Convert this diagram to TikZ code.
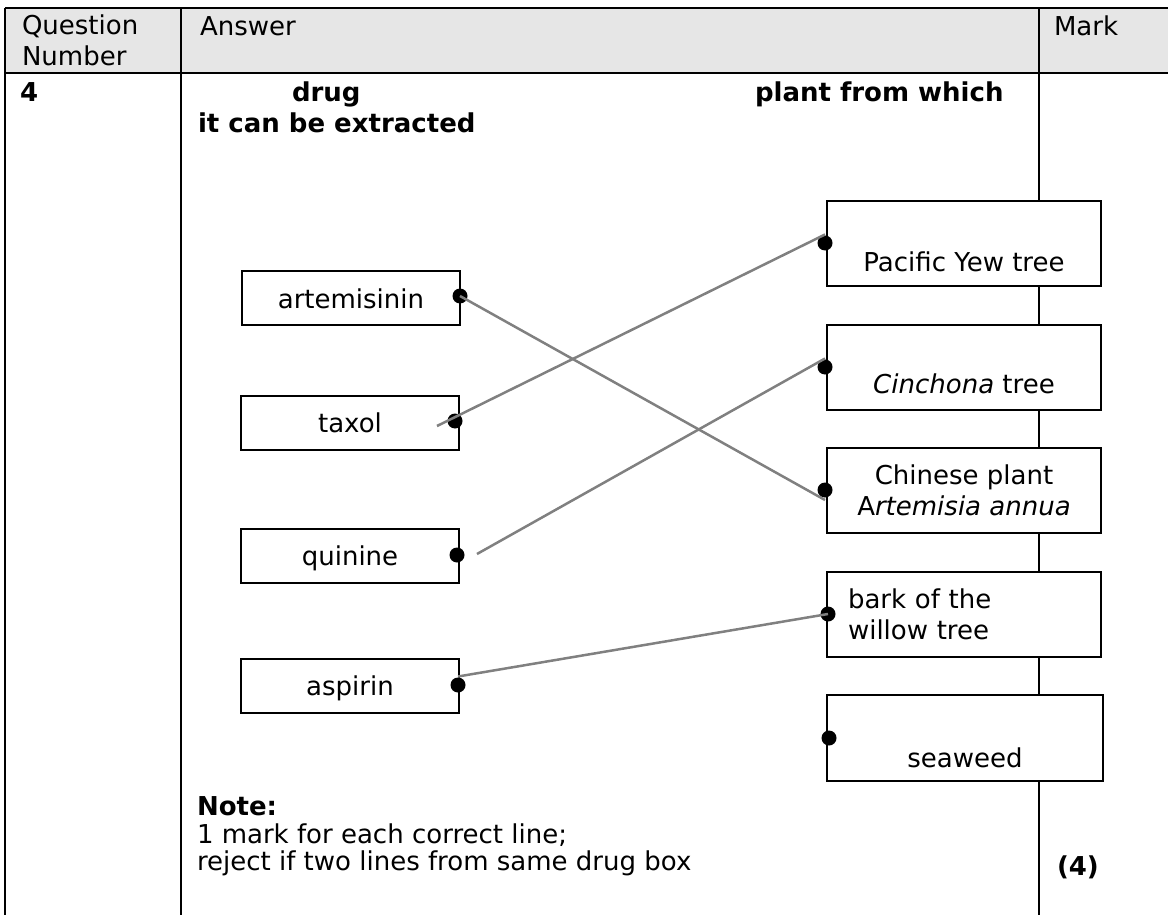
\documentclass[tikz,border=0pt]{standalone}
\usepackage{fontspec}
\setmainfont{DejaVu Sans}
\definecolor{headgray}{HTML}{E6E6E6}
\definecolor{linkgray}{HTML}{808080}
\begin{document}
\begin{tikzpicture}[x=1pt, y=-1pt, line width=2pt,
    every node/.style={font=\fontsize{26}{31}\selectfont, inner sep=0pt},
    hdr/.style={anchor=base west},
    drugbox/.style={draw, fill=white, minimum width=218pt, text height=37pt, text depth=17pt},
    plantbox/.style={draw, fill=white, minimum width=274pt, minimum height=85pt},
    blob/.style={circle, fill=black, minimum size=15pt},
    link/.style={draw=linkgray, line width=2.5pt}]
    \useasboundingbox (0,0) rectangle (1168,915);

    % table
    \fill[headgray] (5,8) rectangle (1168,73);
    \draw (5,8) -- (1168,8) (5,73) -- (1168,73);
    \draw (5,8) -- (5,915) (181,8) -- (181,915) (1039,8) -- (1039,915);

    \node[hdr, align=left] (qnum) at (21,66) {Question\\Number};
    \node[hdr] (answer) at (199,36) {Answer};
    \node[hdr] (mark) at (1053,36) {Mark};
    \node[hdr] (qno) at (19,102) {\bfseries 4};
    \node[hdr] (drughdr) at (291,102) {\bfseries drug};
    \node[hdr] (planthdr) at (754,102) {\bfseries plant from which};
    \node[hdr] (extract) at (197,133) {\bfseries it can be extracted};

    % drugs
    \node[drugbox] (art) at (351,298) {artemisinin};
    \node[drugbox] (taxol) at (350,422.5) {taxol};
    \node[drugbox] (quin) at (350,555.5) {quinine};
    \node[drugbox] (asp) at (350,685.5) {aspirin};

    % plants
    \node[plantbox, text height=70pt, text depth=15pt] (yew) at (964,243.5) {Pacific Yew tree};
    \node[plantbox, text height=68pt, text depth=17pt] (cinch) at (964,367.5) {\textit{Cinchona} tree};
    \node[plantbox, align=center] (chinese) at (964,490.5) {Chinese plant\\A\textit{rtemisia annua}};
    \node[plantbox, text width=232pt, inner xsep=21pt, align=left] (bark) at (964,614.5) {bark of the\\willow tree};
    \node[plantbox, minimum width=276pt, text height=72pt, text depth=14pt] (seaweed) at (965,738) {seaweed};

    \node[blob] (artdot) at (460,296) {};
    \node[blob] (taxdot) at (455,421) {};
    \node[blob] (quidot) at (457,555) {};
    \node[blob] (aspdot) at (458,685) {};
    \node[blob] (yewdot) at (825,243) {};
    \node[blob] (cindot) at (825,367) {};
    \node[blob] (chidot) at (825,490) {};
    \node[blob] (barkdot) at (828,614) {};
    \node[blob] (seadot) at (829,738) {};

    % answer lines
    \coordinate (taxstart) at (437,426);
    \coordinate (quistart) at (477,554);
    \draw[link] (artdot.center) -- ([yshift=-10pt]chidot.center);
    \draw[link] (taxstart) -- (yewdot.north);
    \draw[link] (quistart) -- (cindot.north);
    \draw[link] (aspdot.north) -- (barkdot.center);

    % note
    \node[hdr] (note) at (196,815) {\bfseries Note:};
    \node[hdr] (note1) at (196,843) {1 mark for each correct line;};
    \node[hdr] (note2) at (196,870) {reject if two lines from same drug box};
    \node[hdr] (total) at (1056,875) {\bfseries (4)};
\end{tikzpicture}
\end{document}
